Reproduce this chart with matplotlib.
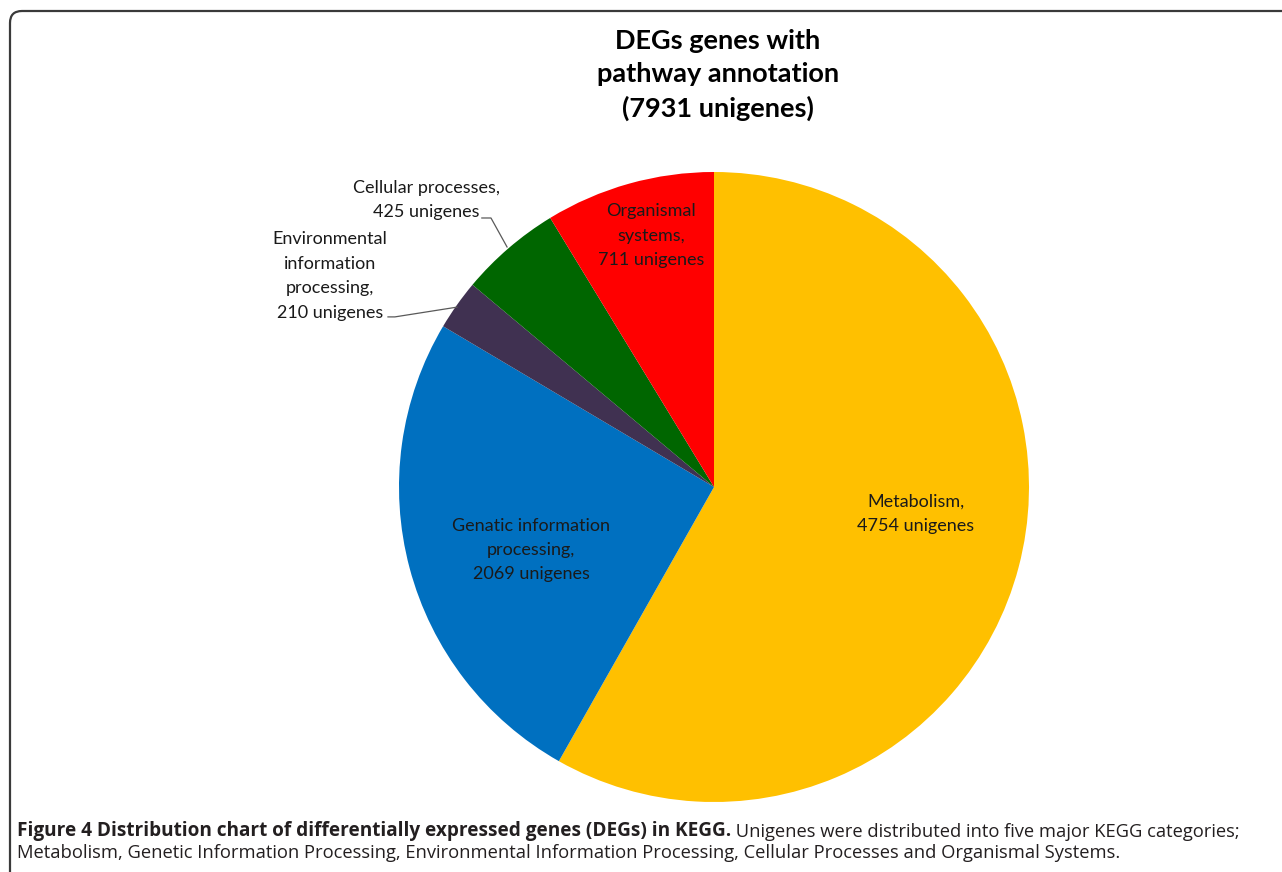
import matplotlib
matplotlib.use("Agg")
import matplotlib.pyplot as plt
from matplotlib.patches import FancyBboxPatch

# KEGG category counts for the DEG unigenes (clockwise from 12 o'clock)
categories = [
    "Metabolism",
    "Genatic information processing",
    "Environmental information processing",
    "Cellular processes",
    "Organismal systems",
]
counts = [4754, 2069, 210, 425, 711]
colors = ["#FFC000", "#0070C0", "#403151", "#006600", "#FF0000"]

label_lines = [
    "Metabolism,\n{} unigenes",
    "Genatic information\nprocessing,\n{} unigenes",
    "Environmental\ninformation\nprocessing,\n{} unigenes",
    "Cellular processes,\n{} unigenes",
    "Organismal\nsystems,\n{} unigenes",
]
# label centres in pie units (radius = 1)
label_pos = [(0.641, -0.086), (-0.581, -0.200), (-1.219, 0.670),
             (-0.914, 0.911), (-0.200, 0.797)]
# leader lines for the two outside labels
leaders = {
    2: [(-1.035, 0.540), (-1.013, 0.540), (-0.816, 0.571)],
    3: [(-0.737, 0.854), (-0.708, 0.854), (-0.657, 0.762)],
}

title = "DEGs genes with\npathway annotation\n(7931 unigenes)"
caption_bold = "Figure 4 Distribution chart of differentially expressed genes (DEGs) in KEGG."
caption_rest = " Unigenes were distributed into five major KEGG categories;"
caption_line2 = ("Metabolism, Genetic Information Processing, Environmental Information "
                 "Processing, Cellular Processes and Organismal Systems.")

W, H = 1282, 872
fig = plt.figure(figsize=(W / 100, H / 100), dpi=100)
fig.patch.set_facecolor("white")

# rounded frame open to the right and bottom
frame = FancyBboxPatch((0.10, -1.0), 14.0, 8.72 - 0.11 + 1.0,
                       boxstyle="round,pad=0,rounding_size=0.12",
                       transform=fig.dpi_scale_trans, fill=False,
                       edgecolor="#3a3a3a", linewidth=1.6)
fig.patches.append(frame)

cx, cy, r = 714, 487, 315
ax = fig.add_axes([(cx - r) / W, (H - cy - r) / H, 2 * r / W, 2 * r / H])
ax.pie(counts, colors=colors, startangle=90, counterclock=False, radius=1,
       wedgeprops=dict(linewidth=0))
ax.set_xlim(-1, 1)
ax.set_ylim(-1, 1)
ax.set_aspect("equal")
ax.axis("off")

label_font = dict(family="Lato", fontsize=13, color="#1a1a1a",
                  ha="center", va="center", linespacing=1.65)
for i, (tmpl, n) in enumerate(zip(label_lines, counts)):
    x, y = label_pos[i]
    ax.text(x, y, tmpl.format(n), clip_on=False, **label_font)

for pts in leaders.values():
    xs, ys = zip(*pts)
    ax.plot(xs, ys, color="#595959", linewidth=0.9, clip_on=False)

fig.text(718 / W, 1 - 75 / H, title, ha="center", va="center",
         family="Lato", fontweight="bold", fontsize=19.5, color="black",
         linespacing=1.45)

cap = fig.text(17 / W, 1 - 836 / H, caption_bold, ha="left", va="baseline",
               family="Open Sans", fontweight="bold", fontsize=13.7,
               color="#231f20")
ax_fig = fig.add_axes([0, 0, 1, 1], facecolor="none")
ax_fig.axis("off")
ax_fig.annotate(caption_rest, xy=(1, 0), xycoords=cap, ha="left",
                va="bottom", family="Open Sans", fontsize=13.2,
                color="#231f20", annotation_clip=False)
fig.text(17 / W, 1 - 858 / H, caption_line2, ha="left", va="baseline",
         family="Open Sans", fontsize=13.2, color="#231f20")

fig.savefig("out.png", dpi=100, facecolor="white")
